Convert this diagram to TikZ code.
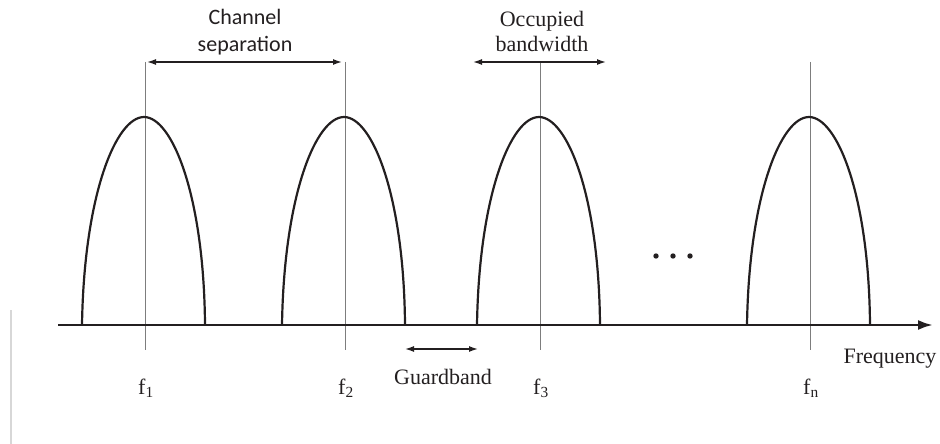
\documentclass[tikz,border=0pt]{standalone}
\usepackage{fontspec}
\setmainfont{Liberation Serif}
\newfontfamily\carlitofont{Carlito}
\usepackage{xcolor}
\definecolor{chblack}{RGB}{35, 31, 32}
\definecolor{chgray}{RGB}{125, 125, 125}
\definecolor{chframe}{RGB}{215, 215, 215}
\usetikzlibrary{arrows.meta}

\begin{document}
\begin{tikzpicture}[x=1pt, y=-1pt,
    lbl/.style={font=\fontsize{22}{26}\selectfont, inner sep=0pt, text=chblack},
    dimarrow/.style={{Latex[length=9pt,width=6pt]}-{Latex[length=9pt,width=6pt]}, line width=1.4pt, chblack},
    hump/.style={line width=2.2pt, chblack},
    axisline/.style={-{Latex[length=15pt,width=10pt]}, line width=2.6pt, chblack}]
\useasboundingbox (0,0) rectangle (940,444);

% === Trazo gris del margen izquierdo ===
\draw[chframe, line width=1.5pt] (11,310) -- (11,444);

% === Canales: línea central, lóbulo y etiqueta ===
\foreach \cx/\lab in {145/1, 345/2, 540/3, 810/n} {
    \draw[chgray, line width=0.8pt] (\cx,62) -- (\cx,350);
    \draw[hump]
        (\cx-63,325) .. controls (\cx-61,195) and (\cx-29,117) .. (\cx-1,117)
        .. controls (\cx+27,117) and (\cx+59,195) .. (\cx+60,325);
    \node[lbl, anchor=base] (f\lab) at (\cx+1,394) {f\textsubscript{\lab}};
}

% === Eje de frecuencia ===
\coordinate (axL) at (58,325);
\coordinate (axR) at (933,325);
\draw[axisline] (axL) -- (axR);
\node[lbl, anchor=base] (freq) at (890,363) {Frequency};

% Puntos suspensivos
\foreach \dx in {656, 673, 690} {
    \fill[chblack] (\dx,256) circle (2.7pt);
}

% === Separación entre canales ===
\coordinate (sepL) at (147,62);
\coordinate (sepR) at (342,62);
\draw[dimarrow] (sepL) -- (sepR);
\node[lbl, align=center, font=\carlitofont\fontsize{22}{27}\selectfont] (septext) at (245,32) {Channel\\separation};

% === Ancho de banda ocupado ===
\coordinate (bwL) at (473,62);
\coordinate (bwR) at (606,62);
\draw[dimarrow] (bwL) -- (bwR);
\node[lbl, align=center, font=\fontsize{22}{25}\selectfont] (bwtext) at (542,31) {Occupied\\bandwidth};

% === Banda de guarda ===
\coordinate (gbL) at (405,349);
\coordinate (gbR) at (478,349);
\draw[dimarrow] (gbL) -- (gbR);
\node[lbl, anchor=base] (gbtext) at (443,384) {Guardband};

\end{tikzpicture}
\end{document}
